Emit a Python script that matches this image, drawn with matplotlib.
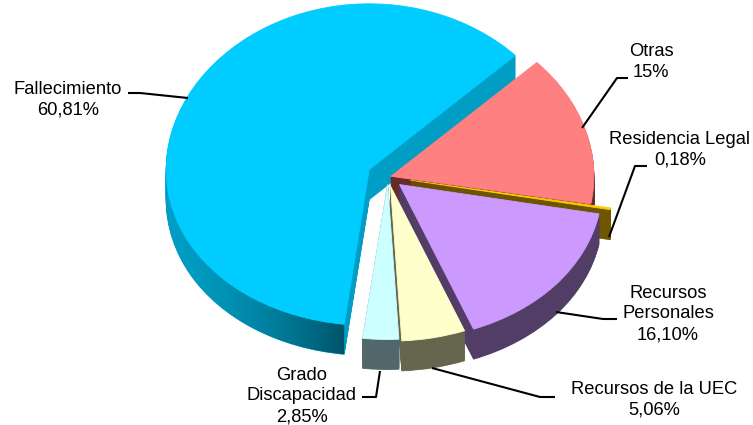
import numpy as np
import matplotlib
matplotlib.use("Agg")
import matplotlib.pyplot as plt
from matplotlib.patches import Polygon
from matplotlib.transforms import Affine2D, Transform

plt.rcParams['font.family'] = ['Liberation Sans', 'DejaVu Sans']

# data, counter clockwise from the start angle
categories = ['Fallecimiento', 'Grado Discapacidad', 'Recursos de la UEC',
              'Recursos Personales', 'Residencia Legal', 'Otras']
values = [60.81, 2.85, 5.06, 16.10, 0.18, 15.0]
labels = ['Fallecimiento\n60,81%', 'Grado\nDiscapacidad\n2,85%', 'Recursos de la UEC\n5,06%',
          'Recursos\nPersonales\n16,10%', 'Residencia Legal\n0,18%', 'Otras\n15%']

# styles
top_colors = ['#00ccff', '#ccffff', '#ffffcc', '#cc99ff', '#ffcc00', '#ff8080']
wall_colors = ['#009dc4', '#52666b', '#66664f', '#523d66', '#6e5500', '#662b2b']
explode = [21, 9.5, 12, 15, 23, 3]  # pie takes these in data units, not radius
label_pos = [(68, 100), (302, 396), (654, 400), (668, 314), (680, 150), (651, 62)]
leaders = [[(128, 93), (140, 93), (188, 98)],
           [(380, 371), (376, 397), (362, 397)],
           [(432, 368), (540, 397), (555, 397)],
           [(556, 312), (603, 319), (617, 319)],
           [(609, 237), (635, 166), (647, 166)],
           [(582, 128), (617, 78), (628, 78)]]

W, H = 753, 425
squash = 0.79
persp = 0.00012
radius = 203
depth = 30
cx, cy = 388, 177
start = 44


class Tilt(Transform):
    # flat pie to the tilted view, the far side comes out a bit bigger
    input_dims = 2
    output_dims = 2

    def transform_non_affine(self, xy):
        xy = np.asarray(xy, dtype=float)
        v = xy[:, 1]
        return np.column_stack([xy[:, 0], H - cy + squash * v + persp * v ** 2])


tilt = Tilt()

fig = plt.figure(figsize=(W / 100, H / 100), dpi=100)
ax = fig.add_axes([0, 0, 1, 1])
over = fig.add_axes([0, 0, 1, 1])
over.set_xlim(0, W)
over.set_ylim(H, 0)
over.axis('off')
over.patch.set_alpha(0)


def draw_pie(dy, colors, z):
    wedges, _ = ax.pie(values, explode=explode, colors=colors, startangle=start,
                       radius=radius, center=(cx, 0), counterclock=True,
                       wedgeprops={'linewidth': 0.6, 'zorder': z})
    tr = tilt + Affine2D().translate(0, -dy) + ax.transData
    for w, c in zip(wedges, colors):
        w.set_edgecolor(c)
        w.set_transform(tr)
    return wedges


# stack of dark pies makes the side walls
for dy in range(depth, 0, -1):
    draw_pie(dy, wall_colors, 1)

top = draw_pie(0, top_colors, 3)

# outer wall of the big slice gets darker to the front
blue = top[0]
th = np.radians(np.linspace(150, blue.theta2, 120))
arc = np.column_stack([blue.center[0] + radius * np.cos(th), blue.center[1] + radius * np.sin(th)])
arc = tilt.transform(arc)
band = np.vstack([arc, arc[::-1] - [0, depth]])
clip = Polygon(band, transform=ax.transData, facecolor='none', edgecolor='none')
ax.add_patch(clip)
shade = np.zeros((2, 256, 4))
shade[:, :, 3] = np.linspace(0, 1, 256) ** 1.6 * 0.47
img = ax.imshow(shade, extent=(166, 346, 0, H), aspect='auto', zorder=2)
img.set_clip_path(clip)

ax.set_aspect('auto')
ax.set_xlim(0, W)
ax.set_ylim(0, H)
ax.axis('off')

for txt, pos, line in zip(labels, label_pos, leaders):
    over.text(pos[0], pos[1], txt, ha='center', va='center', fontsize=13.2,
              color='black', linespacing=1.27, clip_on=False)
    over.plot([p[0] for p in line], [p[1] for p in line], color='black', lw=1.5,
              solid_joinstyle='round', solid_capstyle='butt')

fig.savefig('out.png', dpi=100)
